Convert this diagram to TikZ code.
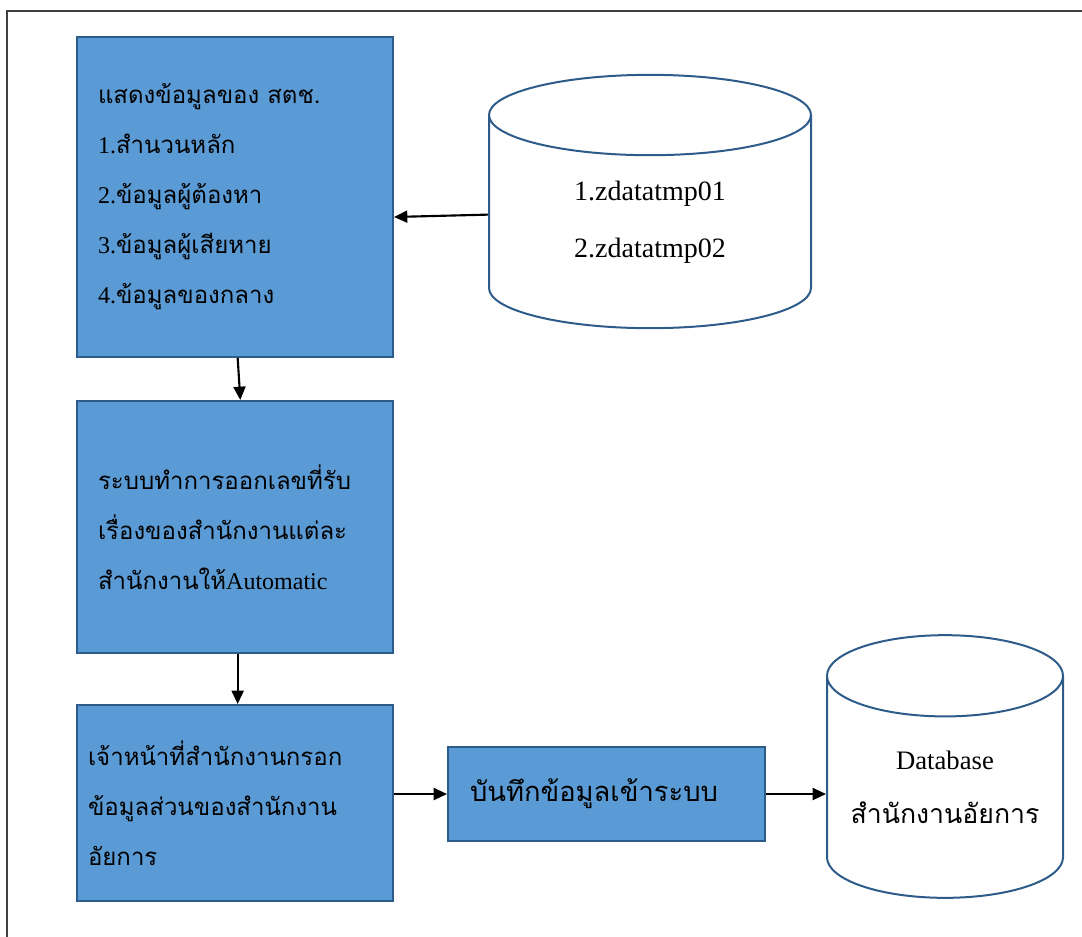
\documentclass[tikz,border=0pt]{standalone}
\usepackage{fontspec}
\setmainfont{Liberation Serif}
\newfontfamily\thaifont[Script=Thai]{Loma}
\usetikzlibrary{shapes.geometric,arrows.meta}

\definecolor{boxfill}{HTML}{5B9BD5}
\definecolor{boxline}{HTML}{2E5C8A}
\definecolor{frameline}{HTML}{404040}
\newcommand{\tha}[1]{{\thaifont #1}}

\tikzset{
  procbox/.style={draw=boxline, fill=boxfill, line width=1.5pt, rectangle,
    align=left, inner ysep=0pt, font=\fontsize{18}{37.5}\selectfont},
  dbcyl/.style={cylinder, shape border rotate=90, draw=boxline, fill=white,
    line width=1.5pt, align=center, inner sep=0pt, anchor=shape center},
  flow/.style={-{Triangle[length=10pt,width=9pt]}, line width=1.6pt}
}

\begin{document}
\begin{tikzpicture}[x=0.75pt,y=-0.75pt]
        \useasboundingbox (0,0) rectangle (1082,936);
        % page frame
        \draw[frameline, line width=1.2pt] (7,945) -- (7,11) -- (1095,11);

        % process boxes
        \node[procbox, minimum width=237pt, minimum height=240pt, inner xsep=15.75pt, text width=205.5pt]
            (show) at (235,197) {\tha{แสดงข้อมูลของ สตช.}\\1.\tha{สำนวนหลัก}\\2.\tha{ข้อมูลผู้ต้องหา}\\3.\tha{ข้อมูลผู้เสียหาย}\\4.\tha{ข้อมูลของกลาง}};
        \node[procbox, minimum width=237pt, minimum height=189pt, inner xsep=15.75pt, text width=205.5pt]
            (number) at (235,527) {\tha{ระบบทำการออกเลขที่รับ}\\\tha{เรื่องของสำนักงานแต่ละ}\\\tha{สำนักงานให้}Automatic};
        \node[procbox, minimum width=237pt, minimum height=147pt, inner xsep=8.25pt, text width=220.5pt]
            (officer) at (235,803) {\tha{เจ้าหน้าที่สำนักงานกรอก}\\\tha{ข้อมูลส่วนของสำนักงาน}\\\tha{อัยการ}};
        \node[procbox, minimum width=237.75pt, minimum height=70.5pt, inner xsep=16.5pt, text width=204.75pt,
            font=\fontsize{20.5}{28}\selectfont]
            (save) at (606.5,794) {\tha{บันทึกข้อมูลเข้าระบบ}};

        % databases
        \node[dbcyl, minimum width=241.5pt, minimum height=190pt, aspect=0.53,
            font=\fontsize{21}{43}\selectfont]
            (tmp) at (650,201.5) {1.zdatatmp01\\2.zdatatmp02};
        \node[dbcyl, minimum width=177pt, minimum height=197pt, aspect=0.43,
            font=\fontsize{20}{40}\selectfont]
            (db) at (945,766.5) {Database\\\tha{สำนักงานอัยการ}};

        % arrows
        \draw[flow] ([yshift=5.6pt]tmp.west) -- ([yshift=-15pt]show.east);
        \draw[flow] ([xshift=2pt]show.south) -- ([xshift=4pt]number.north);
        \draw[flow] ([xshift=2pt]number.south) -- ([xshift=2pt]officer.north);
        \draw[flow] (officer.east |- save.west) -- (save.west);
        \draw[flow] (save.east) -- (db.west |- save.east);
\end{tikzpicture}
\end{document}
